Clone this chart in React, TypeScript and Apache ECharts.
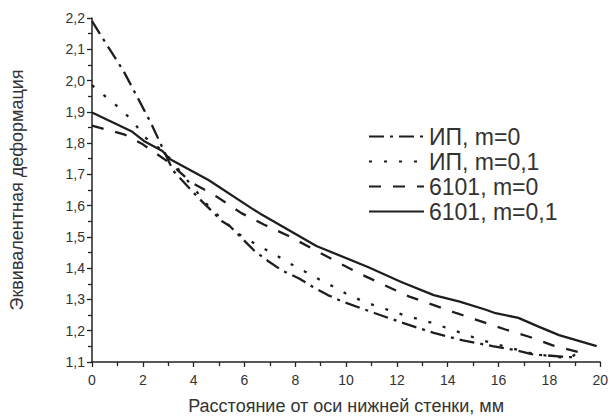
import React, { useEffect, useRef } from "react";
import * as echarts from "echarts";

const seriesNames = ["ИП, m=0", "ИП, m=0,1", "6101, m=0", "6101, m=0,1"];

const xIP0 = [0, 0.53, 1.23, 1.81, 2.32, 2.83, 3.19, 4.15, 5.12, 5.43, 6.4, 6.91, 7.49, 8.13, 8.7, 9.28, 9.86, 11.14, 12.23, 13.45, 14.6, 15.76, 16.78, 17.3, 18.06, 18.5, 19.0];
const yIP0 = [2.19, 2.121, 2.032, 1.943, 1.864, 1.775, 1.712, 1.628, 1.55, 1.534, 1.455, 1.424, 1.392, 1.368, 1.34, 1.314, 1.293, 1.256, 1.225, 1.193, 1.169, 1.151, 1.136, 1.125, 1.12, 1.117, 1.115];

const xIP01 = [0, 0.59, 1.17, 1.65, 2.06, 2.87, 3.7, 4.67, 5.76, 6.59, 7.17, 7.74, 8.32, 8.9, 9.47, 9.99, 10.56, 11.08, 12.23, 13.38, 14.54, 15.24, 16.4, 17.42, 18.45, 18.8, 19.15];
const yIP01 = [1.985, 1.945, 1.906, 1.866, 1.82, 1.77, 1.686, 1.59, 1.51, 1.47, 1.445, 1.417, 1.392, 1.366, 1.342, 1.319, 1.298, 1.282, 1.251, 1.225, 1.193, 1.172, 1.146, 1.125, 1.115, 1.112, 1.132];

const x6101m0 = [0, 1.29, 2.0, 3.0, 3.9, 4.92, 5.88, 6.78, 7.74, 8.7, 9.67, 10.63, 11.53, 12.49, 13.45, 14.35, 15.31, 16.27, 17.23, 18.13, 19.22];
const y6101m0 = [1.856, 1.827, 1.796, 1.74, 1.675, 1.628, 1.576, 1.539, 1.503, 1.461, 1.419, 1.379, 1.345, 1.309, 1.282, 1.256, 1.23, 1.204, 1.18, 1.153, 1.13];

const x6101m01 = [0, 1.55, 2.04, 2.77, 3.06, 4.6, 6.27, 6.59, 8.83, 10.88, 12.17, 13.45, 14.47, 15.5, 15.88, 16.78, 17.55, 18.38, 19.86];
const y6101m01 = [1.898, 1.838, 1.807, 1.775, 1.749, 1.681, 1.592, 1.576, 1.471, 1.403, 1.356, 1.314, 1.293, 1.267, 1.256, 1.241, 1.214, 1.186, 1.151];

const xTitle = "Расстояние от оси нижней стенки, мм";
const yTitle = "Эквивалентная деформация";

const FONT = "'Liberation Sans', Arial, sans-serif";
const LINE = "#1e1e1e";
const TEXT = "#333";

function pairs(xs: number[], ys: number[]) {
  return xs.map((x, i) => [x, ys[i]]);
}

export default function App() {
  const ref = useRef<HTMLDivElement>(null);
  useEffect(() => {
    if (!ref.current) return;
    const chart = echarts.init(ref.current, undefined, { renderer: "svg" });
    const mk = (name: string, data: number[][], type: any) => ({
      name,
      type: "line",
      data,
      showSymbol: false,
      symbol: "none",
      smooth: false,
      lineStyle: { color: LINE, width: 2.3, type },
      itemStyle: { color: LINE },
    });
    chart.setOption({
      animation: false,
      backgroundColor: "#fff",
      grid: { left: 87, right: 5, top: 18, bottom: 52, containLabel: false },
      legend: {
        orient: "vertical",
        left: 368,
        top: 125,
        padding: 0,
        itemWidth: 55,
        itemHeight: 14,
        itemGap: 2,
        itemStyle: { opacity: 0, color: "transparent", borderColor: "transparent" },
        textStyle: { fontFamily: FONT, fontSize: 23, color: TEXT, lineHeight: 23 },
        data: seriesNames,
      },
      xAxis: {
        type: "value",
        min: 0,
        max: 20,
        interval: 2,
        name: xTitle,
        nameLocation: "middle",
        nameGap: 35,
        nameTextStyle: { fontFamily: FONT, fontSize: 18, color: TEXT },
        axisLine: { show: true, lineStyle: { color: "#222", width: 1.5 } },
        axisTick: { show: true, length: 5, lineStyle: { color: "#222", width: 1.3 } },
        minorTick: { show: true, splitNumber: 2, length: 4, lineStyle: { color: "#222", width: 1.3 } },
        axisLabel: { fontFamily: FONT, fontSize: 14, color: TEXT, margin: 11 },
        splitLine: { show: false },
      },
      yAxis: {
        type: "value",
        min: 1.1,
        max: 2.2,
        interval: 0.1,
        name: yTitle,
        nameLocation: "middle",
        nameGap: 66,
        nameTextStyle: { fontFamily: FONT, fontSize: 18, color: TEXT },
        axisLine: { show: true, lineStyle: { color: "#222", width: 1.5 } },
        axisTick: { show: true, length: 5, lineStyle: { color: "#222", width: 1.3 } },
        minorTick: { show: true, splitNumber: 2, length: 4, lineStyle: { color: "#222", width: 1.3 } },
        axisLabel: {
          fontFamily: FONT,
          fontSize: 14,
          color: TEXT,
          margin: 7,
          formatter: (v: number) => v.toFixed(1).replace(".", ","),
        },
        splitLine: { show: false },
      },
      series: [
        mk(seriesNames[0], pairs(xIP0, yIP0), [15, 6, 3, 6]),
        mk(seriesNames[1], pairs(xIP01, yIP01), [3, 12]),
        mk(seriesNames[2], pairs(x6101m0, y6101m0), [12, 12]),
        mk(seriesNames[3], pairs(x6101m01, y6101m01), "solid"),
      ],
    });
    return () => chart.dispose();
  }, []);
  return (
    <div
      ref={ref}
      style={{ position: "fixed", left: 0, top: 0, width: 611, height: 420, background: "#fff" }}
    />
  );
}
